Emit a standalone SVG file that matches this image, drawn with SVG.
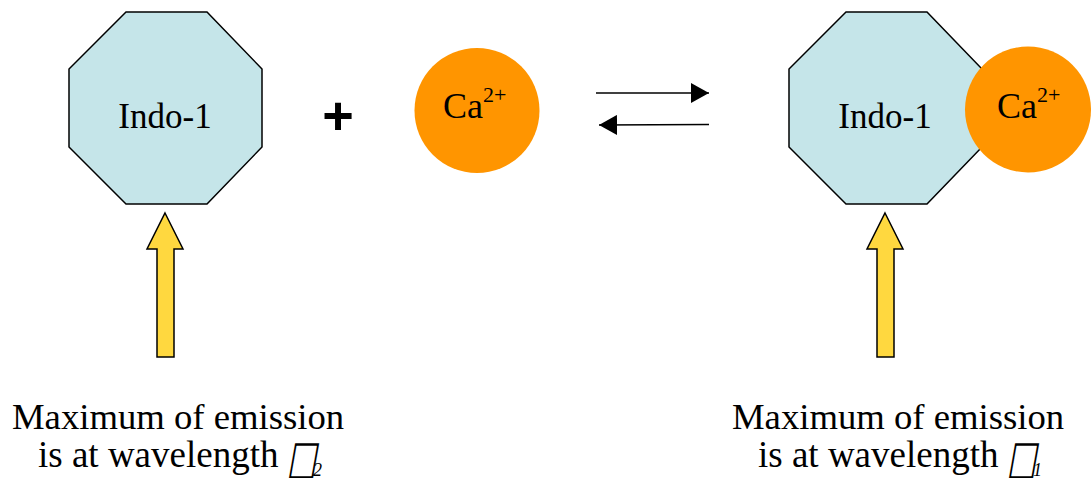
<svg xmlns="http://www.w3.org/2000/svg" width="1092" height="478" viewBox="0 0 1092 478">
<style>
.oct{fill:#C5E5E9;stroke:#000;stroke-width:1.5}
.ca{fill:#FF9500}
.yel{fill:#FFD83F;stroke:#000;stroke-width:1.5}
.t{font-family:"Liberation Serif","Times New Roman",serif;fill:#000}
.lbl{font-size:35px}
.cap{font-size:36px}
.sup{font-size:22px}
.l1{font-size:36.7px}
.l2{font-size:37px}
.box{font-family:"DejaVu Sans",sans-serif;font-size:30px;fill:#000}
.sub{font-family:"Liberation Serif","Times New Roman",serif;font-style:italic;font-size:18px;fill:#000}
</style>
<defs>
<marker id="ah" viewBox="0 0 18 20" refX="18" refY="10" markerWidth="18" markerHeight="20" markerUnits="userSpaceOnUse" orient="auto">
<path d="M0,0 L18,10 L0,20 Z" fill="#000"/>
</marker>
</defs>
<rect width="1092" height="478" fill="#fff"/>

<g id="indo1-left">
<polygon class="oct" points="126,12 207,12 262,69 262,147 207,204 126,204 69,147 69,69"/>
<text class="t lbl" x="165" y="128" text-anchor="middle">Indo-1</text>
</g>

<g id="plus">
<text x="338" y="134" text-anchor="middle" font-family="Liberation Sans, Arial, sans-serif" font-weight="bold" font-size="54">+</text>
</g>

<g id="ca-left">
<circle class="ca" cx="477" cy="110.5" r="62.5"/>
<text class="t cap" x="443" y="118">Ca<tspan class="sup" dy="-16">2+</tspan></text>
</g>

<g id="indo1-ca-right">
<polygon class="oct" points="846,12 927,12 982,69 982,147 927,204 846,204 789,147 789,69"/>
<text class="t lbl" x="885" y="128" text-anchor="middle">Indo-1</text>
<circle class="ca" cx="1028" cy="109.5" r="63"/>
<text class="t cap" x="997" y="118">Ca<tspan class="sup" dy="-16">2+</tspan></text>
</g>

<g id="connectors">
<line x1="596" y1="93" x2="709" y2="93" stroke="#000" stroke-width="1.5" marker-end="url(#ah)"/>
<line x1="709" y1="124.5" x2="599" y2="125" stroke="#000" stroke-width="1.5" marker-end="url(#ah)"/>
<polygon id="yellow-left" class="yel" points="165,213 183,249 174,249 174,357 157,357 157,249 147,249"/>
<polygon id="yellow-right" class="yel" points="885,213 903,249 894,249 894,357 877,357 877,249 867,249"/>
</g>

<g id="label-left">
<text class="t l1" x="12" y="428.5">Maximum of emission</text>
<text class="t l2" x="38" y="466.7">is at wavelength</text>
<text class="box" transform="translate(287,473) skewX(-10) scale(1.05,1.55)">□</text>
<text class="sub" x="313" y="476">2</text>
</g>

<g id="label-right">
<text class="t l1" x="732" y="428.5">Maximum of emission</text>
<text class="t l2" x="758" y="466.7">is at wavelength</text>
<text class="box" transform="translate(1007,473) skewX(-10) scale(1.05,1.55)">□</text>
<text class="sub" x="1033" y="476">1</text>
</g>
</svg>
